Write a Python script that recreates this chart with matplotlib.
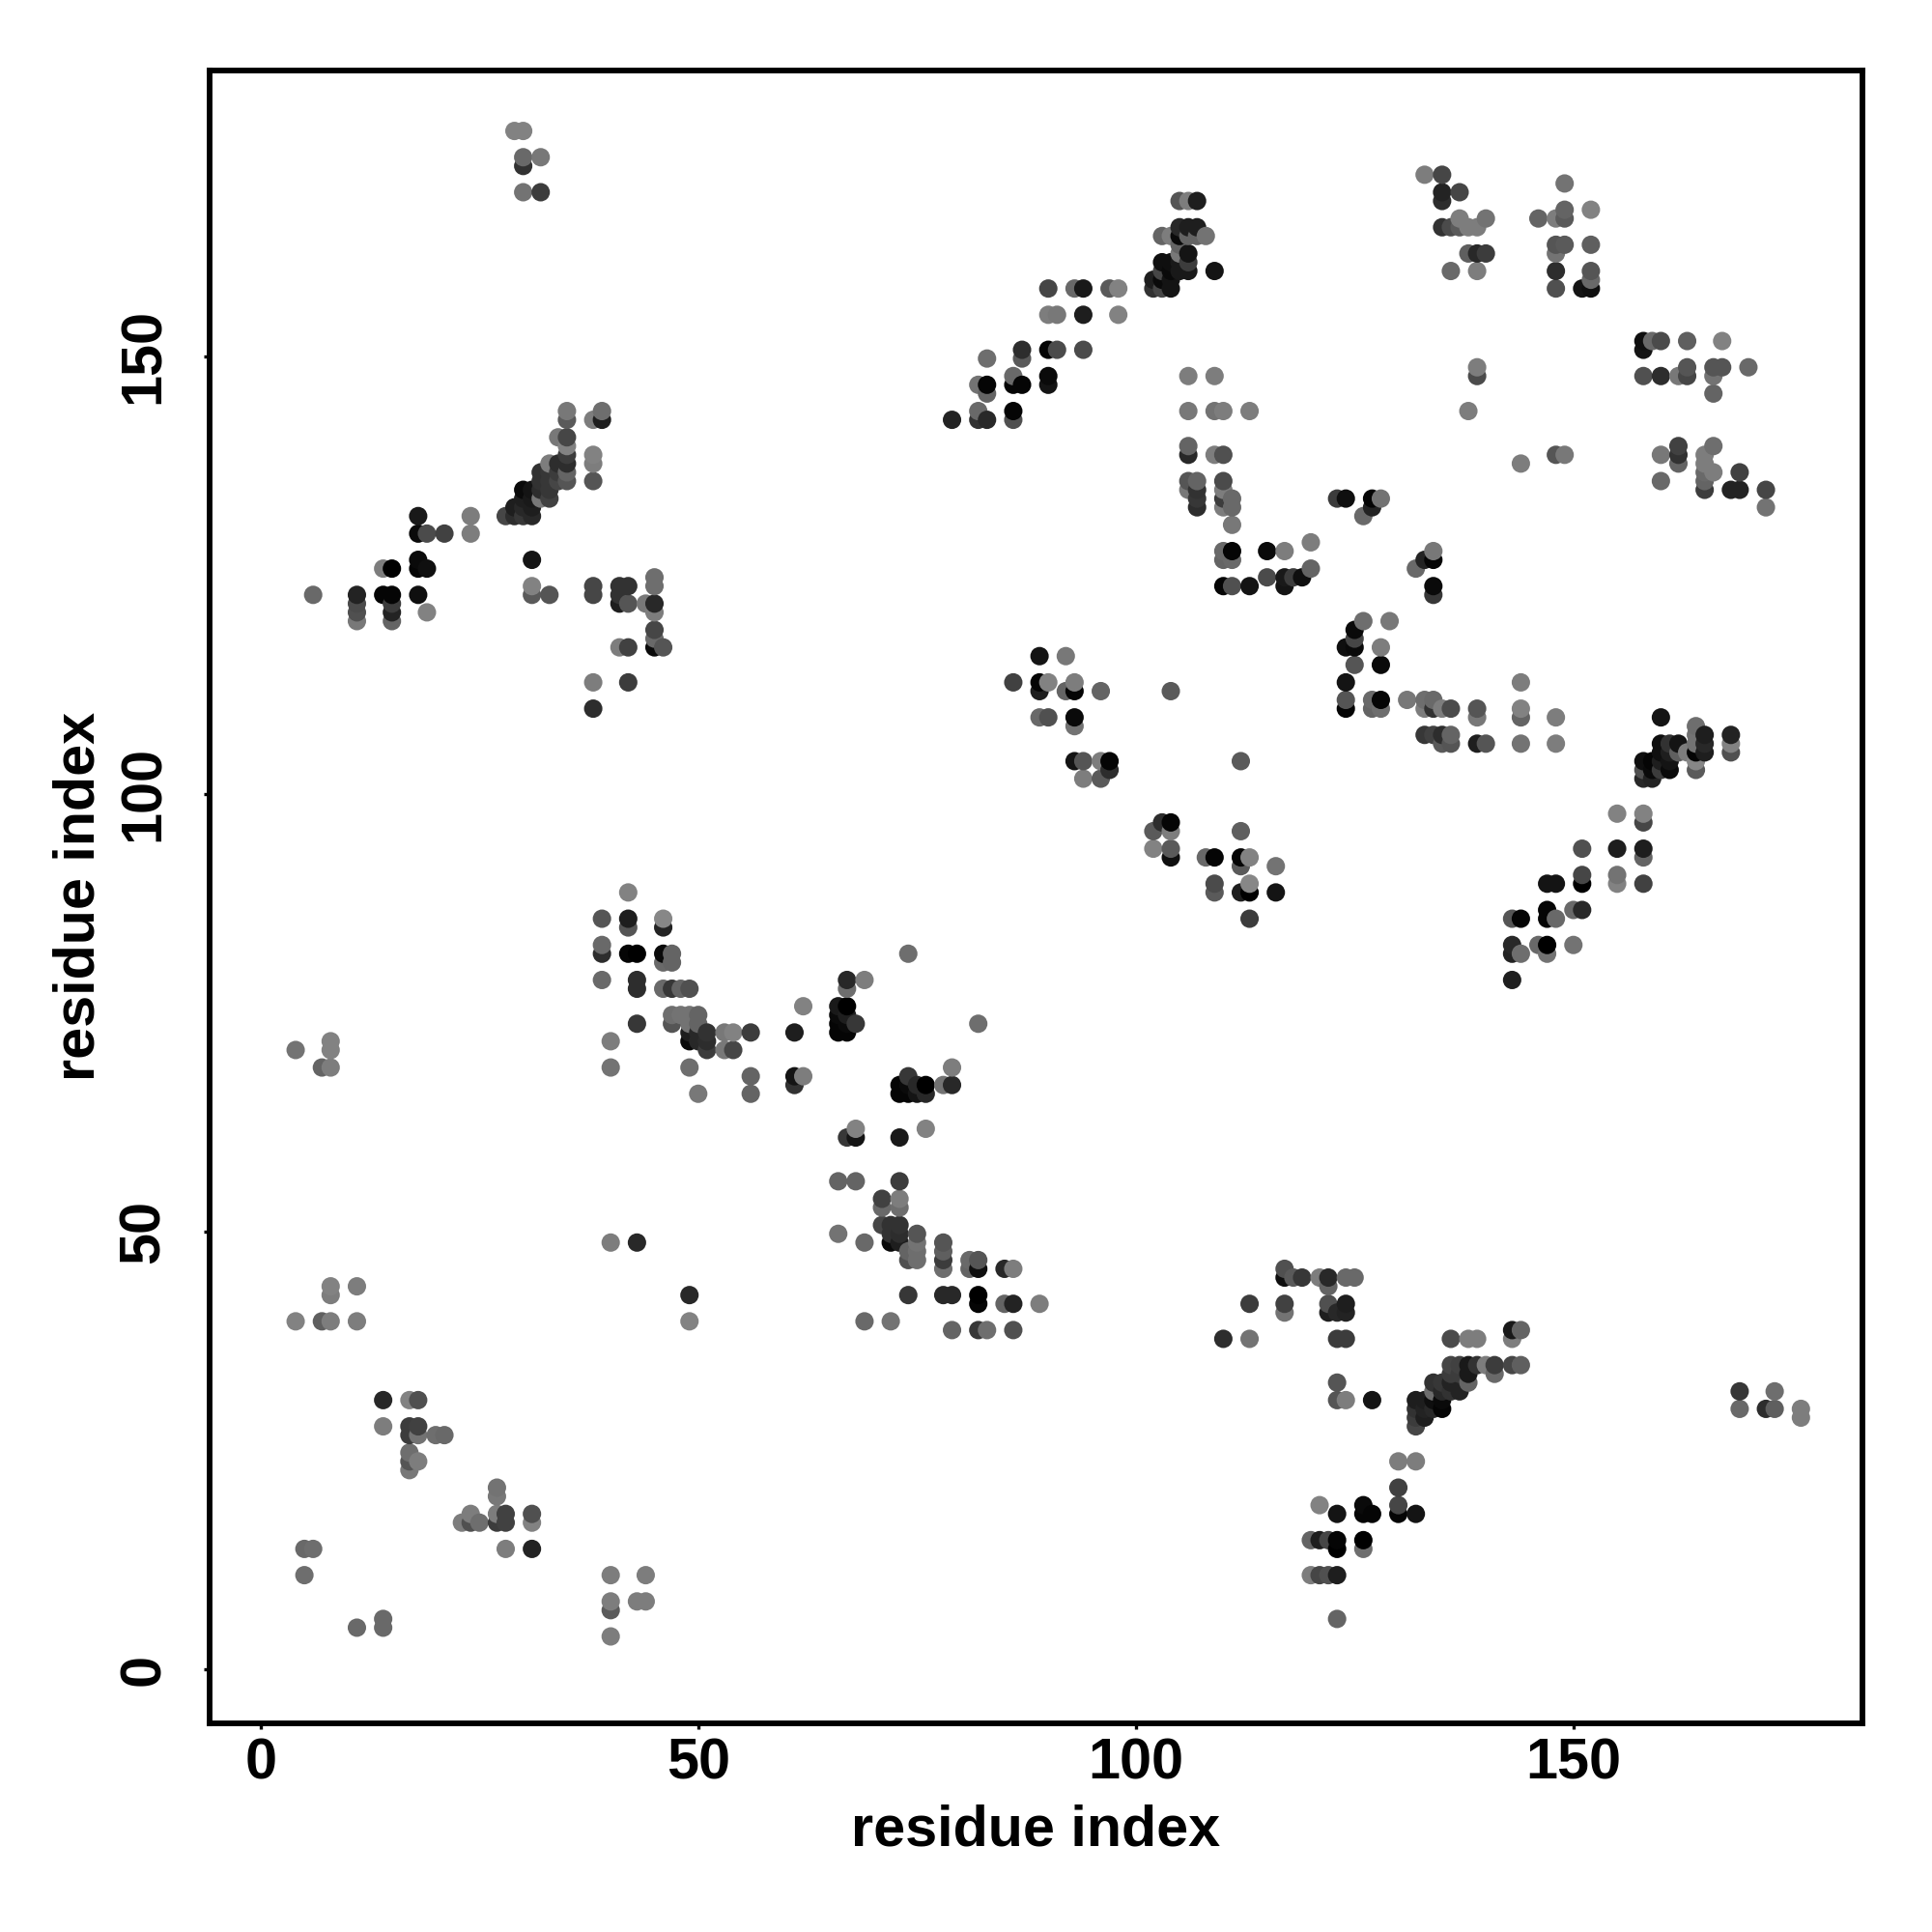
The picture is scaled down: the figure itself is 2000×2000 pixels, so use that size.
import numpy as np
import matplotlib
matplotlib.use("Agg")
import matplotlib.pyplot as plt

# contacts, region by region: residue x, residue y, grey level
top_left_x = [29, 30, 30, 32, 30, 30, 32,
              35, 35, 38, 39, 39, 34, 35, 35, 38, 38, 38, 35, 35, 35, 35, 34,
              33, 32, 33, 34, 34, 33, 32, 32, 33, 33, 32, 31, 30, 30, 31, 29, 30, 31, 28, 29, 30, 31,
              18, 24, 24, 18, 19, 21, 18, 18, 19, 14, 15,
              31, 31, 31, 33, 6, 11, 11, 11, 11,
              14, 15, 15, 15, 15, 18, 19,
              38, 38, 41, 42, 41, 41, 42, 44, 45, 45, 45, 45, 45]
top_left_y = [176, 176, 173, 173, 172, 169, 169,
              144, 143, 143, 143, 144, 141, 141, 140, 139, 138, 136, 139, 138, 137, 136, 138,
              138, 137, 137, 137, 136, 136, 136, 135, 135, 134, 134, 135, 135, 134, 134, 133, 133, 133, 132, 132, 132, 132,
              132, 132, 130, 130, 130, 130, 127, 126, 126, 126, 126,
              127, 124, 123, 123, 123, 123, 122, 121, 120,
              123, 123, 122, 121, 120, 123, 121,
              124, 123, 124, 124, 123, 122, 122, 122, 122, 125, 124, 121, 119]
top_left_g = [130, 130, 105, 120, 50, 115, 60,
              120, 90, 125, 30, 110, 120, 70, 130, 130, 125, 85, 60, 45, 100, 85, 45,
              125, 50, 55, 60, 70, 55, 50, 45, 55, 65, 120, 20, 10, 30, 25, 30, 40, 30, 70, 45, 55, 40,
              25, 125, 125, 10, 75, 65, 10, 5, 15, 125, 0,
              20, 130, 90, 85, 105, 35, 75, 80, 120,
              5, 5, 60, 35, 100, 15, 130,
              70, 70, 50, 50, 50, 30, 85, 120, 40, 110, 110, 125, 70]

mid_left_x = [45, 46, 45, 41, 42,
              38, 42, 38, 42, 39, 42, 42, 46, 46,
              39, 39, 42, 43, 46, 47, 46, 47,
              39, 43, 43, 46, 47, 48, 49,
              43, 47, 48, 49, 50, 47, 49, 50, 49, 50, 51, 49, 50, 51, 51,
              53, 54, 56, 53, 54,
              40, 40, 49, 50, 56, 56,
              8, 8, 4, 7, 8]
mid_left_y = [118, 117, 117, 117, 117,
              113, 113, 110, 89, 86, 86, 85, 86, 85,
              83, 82, 82, 82, 82, 82, 81, 81,
              79, 79, 78, 78, 78, 78, 78,
              74, 75, 75, 75, 75, 74, 74, 74, 73, 73, 73, 72, 72, 72, 71,
              73, 73, 73, 71, 71,
              72, 69, 69, 66, 68, 66,
              72, 71, 71, 69, 69]
mid_left_g = [105, 85, 10, 125, 65,
              125, 60, 45, 130, 85, 30, 85, 135, 35,
              105, 45, 5, 0, 10, 100, 105, 100,
              105, 45, 45, 105, 55, 100, 80,
              55, 110, 115, 115, 100, 85, 115, 100, 30, 40, 50, 10, 40, 45, 60,
              120, 130, 60, 120, 70,
              125, 115, 110, 120, 100, 100,
              130, 130, 115, 100, 125]

bottom_left_x = [40, 43, 49, 49, 8, 8, 11, 4, 7, 8, 11,
                 14, 17, 18, 14, 17, 18, 17, 18, 20, 21, 17, 17, 18, 17,
                 27, 27, 24, 27, 28, 31, 23, 24, 25, 27, 28, 31,
                 28, 31, 5, 6, 5, 11, 14, 14,
                 40, 44, 40, 40, 43, 44, 40]
bottom_left_y = [49, 49, 43, 40, 44, 43, 44, 40, 40, 40, 40,
                 31, 31, 31, 28, 28, 28, 27, 27, 27, 27, 25, 24, 24, 23,
                 21, 20, 18, 18, 18, 18, 17, 17, 17, 17, 17, 17,
                 14, 14, 14, 14, 11, 5, 6, 5,
                 11, 11, 8, 7, 8, 8, 4]
bottom_left_g = [125, 40, 40, 130, 130, 125, 125, 130, 95, 125, 125,
                 40, 130, 80, 125, 60, 65, 60, 115, 110, 105, 110, 85, 125, 120,
                 115, 120, 125, 125, 65, 80, 125, 80, 110, 60, 65, 130,
                 125, 35, 105, 110, 110, 105, 105, 105,
                 125, 125, 125, 90, 125, 125, 125]

top_mid_x = [105, 106, 107, 105, 106, 107, 103, 104, 105, 106, 107, 108,
             105, 106, 105, 106, 105, 106, 105, 109,
             103, 104, 103, 104, 102, 103, 104, 102, 103, 104,
             90, 93, 94, 97, 98, 90, 91, 94, 98,
             90, 91, 94, 87, 87, 83, 86, 86, 87, 90, 90, 82, 83, 83,
             82, 86, 86, 79, 82, 83,
             106, 109, 106, 109, 110, 113, 106, 106, 109, 110,
             106, 107, 106, 107, 107, 107, 110, 110, 110, 110, 111, 111, 111,
             110, 111, 110, 111, 115, 117, 120,
             110, 111, 113, 115, 117, 117, 118, 119, 120]
top_mid_y = [168, 168, 168, 165, 165, 165, 164, 164, 164, 164, 164, 164,
             163, 162, 162, 161, 161, 160, 160, 160,
             161, 161, 160, 160, 159, 159, 159, 158, 158, 158,
             158, 158, 158, 158, 158, 155, 155, 155, 155,
             151, 151, 151, 151, 150, 150, 148, 147, 147, 148, 147, 147, 147, 146,
             144, 144, 143, 143, 143, 143,
             148, 148, 144, 144, 144, 144, 140, 139, 139, 139,
             136, 136, 135, 135, 134, 133, 136, 135, 134, 133, 134, 133, 131,
             128, 128, 127, 127, 128, 128, 129,
             124, 124, 124, 125, 125, 124, 125, 125, 126]
top_mid_g = [85, 125, 30, 40, 30, 30, 100, 125, 10, 100, 100, 115,
             100, 20, 120, 60, 25, 25, 25, 20,
             15, 15, 70, 10, 30, 10, 20, 50, 70, 20,
             70, 105, 25, 90, 130, 125, 120, 30, 130,
             5, 75, 75, 45, 90, 110, 105, 5, 5, 10, 20, 115, 5, 100,
             105, 5, 80, 35, 50, 40,
             125, 125, 120, 115, 125, 125, 100, 40, 125, 80,
             85, 100, 120, 50, 55, 45, 75, 125, 60, 125, 105, 105, 120,
             105, 5, 100, 105, 10, 125, 125,
             5, 80, 20, 75, 25, 20, 60, 15, 100]

top_right_x = [133, 135, 135, 135, 137, 135, 136, 137, 137, 138, 139, 140,
               138, 139, 140, 136, 139, 139, 139, 138, 144, 148, 149,
               149, 152, 149, 146, 148, 149, 148, 149, 148, 152,
               148, 152, 152, 148, 151, 152,
               158, 159, 160, 158, 163, 167,
               158, 160, 162, 163, 163, 166, 167, 166, 170, 166,
               160, 160, 162, 162, 162, 165, 166, 165, 166, 165, 165, 165,
               169, 168, 169, 172, 172,
               123, 124, 127, 128, 127, 126,
               132, 133, 134, 134, 134, 134]
top_right_y = [171, 171, 169, 168, 169, 165, 165, 165, 166, 165, 165, 166,
               162, 162, 162, 160, 160, 149, 148, 144, 138, 139, 139,
               170, 167, 167, 166, 166, 166, 163, 163, 162, 163,
               160, 160, 159, 158, 158, 158,
               152, 152, 152, 151, 152, 152,
               148, 148, 148, 149, 148, 149, 149, 148, 149, 146,
               139, 136, 140, 139, 138, 139, 140, 138, 137, 137, 136, 135,
               137, 135, 135, 135, 133,
               134, 134, 134, 134, 133, 132,
               126, 127, 127, 128, 124, 123]
top_right_g = [125, 70, 35, 45, 70, 50, 75, 90, 125, 125, 125, 115,
               95, 40, 60, 105, 125, 125, 75, 125, 125, 85, 120,
               115, 130, 100, 100, 125, 90, 85, 90, 115, 95,
               45, 85, 105, 80, 20, 15,
               15, 105, 75, 20, 95, 130,
               80, 45, 120, 85, 70, 85, 85, 115, 105, 100,
               120, 105, 65, 50, 100, 125, 110, 125, 125, 105, 100, 60,
               65, 35, 35, 70, 115,
               60, 15, 5, 115, 35, 105,
               105, 35, 5, 120, 10, 55]

mid_right_x = [126, 129, 125, 125, 124, 125, 128, 125, 128,
               124, 124, 124, 127, 128, 127, 128,
               131, 133, 134, 133, 134, 135, 136,
               139, 139, 144, 144, 144, 148,
               133, 134, 135, 136, 135, 136, 139, 140, 144, 148,
               160, 164, 165, 165, 164, 164, 165, 164, 164, 164,
               168, 168, 168,
               160, 161, 162, 160, 161, 162, 163,
               158, 159, 160, 161, 158, 159, 160, 161, 158, 159,
               155, 158, 158, 151, 155, 158, 158,
               147, 148, 151, 151, 155, 155, 158,
               147, 150, 151, 147, 148, 143, 144,
               143, 143, 144, 146, 147, 147, 150, 143]
mid_right_y = [120, 120, 119, 118, 117, 117, 117, 115, 115,
               113, 111, 110, 111, 111, 110, 110,
               111, 111, 111, 110, 110, 110, 110,
               110, 109, 113, 110, 109, 109,
               107, 107, 107, 107, 106, 106, 106, 106, 106, 106,
               109, 108, 107, 106, 107, 106, 105, 105, 104, 103,
               107, 106, 105,
               106, 106, 106, 105, 105, 105, 105,
               104, 104, 104, 104, 103, 103, 103, 103, 102, 102,
               98, 98, 97, 94, 94, 94, 93,
               90, 90, 90, 91, 91, 90, 90,
               87, 87, 87, 86, 86, 86, 86,
               83, 82, 82, 83, 83, 82, 83, 79]
mid_right_g = [110, 120, 10, 70, 15, 10, 125, 85, 10,
               20, 85, 5, 105, 5, 100, 110,
               120, 110, 105, 125, 50, 125, 75,
               85, 120, 125, 130, 100, 125,
               55, 65, 45, 100, 90, 85, 30, 85, 115, 125,
               20, 110, 30, 40, 115, 115, 30, 5, 135, 90,
               35, 130, 80,
               15, 50, 20, 15, 30, 95, 125,
               15, 5, 30, 20, 80, 10, 60, 10, 40, 35,
               130, 130, 70, 80, 30, 30, 100,
               20, 20, 0, 70, 115, 130, 65,
               5, 105, 40, 5, 105, 85, 5,
               40, 35, 110, 105, 0, 115, 115, 30]

centre_x = [89, 92, 86, 89, 90, 93, 89, 92, 93, 96, 104,
            89, 90, 93, 93, 93, 94, 96, 97, 97, 94, 96, 112,
            102, 103, 104, 104, 102, 104, 104,
            112, 108, 109, 112, 113, 112, 116,
            109, 109, 112, 113, 113, 116, 113,
            74, 67, 69, 67, 62, 66, 67,
            66, 67, 66, 67, 68, 66, 67, 61, 82,
            61, 62, 61,
            74, 73, 74, 75, 76, 73, 74, 75, 76,
            78, 79, 79, 67, 68, 68, 73, 76,
            66, 68, 73]
centre_y = [116, 116, 113, 113, 113, 113, 112, 112, 112, 112, 112,
            109, 109, 109, 108, 104, 104, 104, 104, 103, 102, 102, 104,
            96, 97, 97, 96, 94, 94, 93,
            96, 93, 93, 93, 93, 92, 92,
            90, 89, 89, 90, 89, 89, 86,
            82, 79, 79, 78, 76, 76, 76,
            75, 75, 74, 74, 74, 73, 73, 73, 74,
            68, 68, 67,
            68, 67, 67, 67, 67, 66, 66, 66, 66,
            67, 67, 69, 61, 61, 62, 61, 62,
            56, 56, 56]
centre_g = [20, 120, 65, 5, 130, 125, 30, 100, 5, 100, 90,
            105, 80, 10, 115, 20, 85, 125, 5, 45, 125, 90, 90,
            90, 45, 5, 125, 130, 90, 15,
            95, 105, 5, 5, 130, 90, 115,
            75, 90, 30, 135, 0, 20, 60,
            110, 40, 125, 110, 130, 25, 0,
            10, 30, 5, 10, 55, 5, 5, 30, 110,
            20, 125, 50,
            55, 5, 10, 40, 0, 5, 5, 20, 40,
            115, 40, 125, 55, 20, 130, 25, 130,
            100, 100, 60]

bottom_mid_x = [71, 73, 71, 73, 71, 72, 73, 72, 73, 72, 73,
                75, 75, 75, 75, 74, 74, 66, 69,
                78, 78, 78, 78, 81, 82, 81, 82, 85, 86,
                74, 78, 79, 82, 82, 85, 86, 89, 69, 72,
                79, 82, 83, 86, 110, 113, 113,
                117, 117, 117, 117, 118, 119, 121]
bottom_mid_y = [54, 54, 53, 53, 51, 51, 51, 50, 50, 49, 49,
                50, 49, 48, 47, 47, 48, 50, 49,
                49, 48, 47, 46, 47, 47, 46, 46, 46, 46,
                43, 43, 43, 43, 42, 42, 42, 42, 40, 40,
                39, 39, 39, 39, 38, 38, 42,
                42, 41, 46, 45, 45, 45, 45]
bottom_mid_g = [65, 125, 105, 110, 70, 50, 50, 50, 45, 10, 30,
                85, 115, 110, 110, 80, 100, 115, 105,
                85, 95, 60, 110, 105, 85, 100, 15, 40, 125,
                55, 40, 40, 0, 5, 100, 35, 125, 105, 115,
                100, 55, 110, 80, 45, 115, 60,
                65, 115, 80, 15, 90, 55, 125]

bottom_right_x = [122, 122, 124, 125, 122, 122, 123, 124, 124, 123, 124,
                  123, 123, 124, 127,
                  136, 138, 139, 143, 144, 143,
                  136, 137, 138, 139, 140, 141, 141, 143, 144,
                  134, 135, 136, 137, 138, 138, 134, 135, 136, 137, 136,
                  132, 133, 134, 135, 132, 133, 134, 135, 132, 133, 132,
                  130, 132, 130, 130, 130, 132,
                  126, 126, 127, 123, 121,
                  123, 123, 126, 126, 122, 120, 121,
                  123, 122, 121, 120, 123,
                  169, 173, 169, 172, 173, 176, 176]
bottom_right_y = [45, 44, 45, 45, 42, 41, 41, 42, 41, 38, 38,
                  33, 31, 31, 31,
                  38, 38, 38, 39, 39, 38,
                  35, 35, 35, 35, 35, 35, 34, 35, 35,
                  33, 33, 34, 34, 34, 33, 32, 32, 32, 32, 33,
                  31, 31, 31, 31, 30, 30, 30, 30, 29, 29, 28,
                  24, 24, 21, 19, 18, 18,
                  19, 18, 18, 18, 19,
                  15, 14, 15, 14, 15, 15, 15,
                  11, 11, 11, 11, 6,
                  32, 32, 30, 30, 30, 30, 29]
bottom_right_g = [40, 100, 105, 105, 80, 30, 40, 30, 35, 60, 60,
                  85, 85, 125, 20,
                  75, 125, 125, 25, 100, 125,
                  70, 65, 25, 50, 125, 60, 105, 70, 95,
                  50, 55, 60, 60, 25, 100, 110, 40, 50, 35, 35,
                  30, 30, 15, 10, 50, 35, 40, 5, 60, 30, 70,
                  125, 125, 65, 70, 5, 20,
                  10, 5, 5, 20, 130,
                  5, 0, 0, 110, 70, 100, 30,
                  30, 80, 70, 125, 100,
                  55, 110, 105, 45, 95, 125, 125]

tick_values = [0, 50, 100, 150]

res_x = np.array(top_left_x + mid_left_x + bottom_left_x + top_mid_x + top_right_x
                 + mid_right_x + centre_x + bottom_mid_x + bottom_right_x)
res_y = np.array(top_left_y + mid_left_y + bottom_left_y + top_mid_y + top_right_y
                 + mid_right_y + centre_y + bottom_mid_y + bottom_right_y)
grey = np.array(top_left_g + mid_left_g + bottom_left_g + top_mid_g + top_right_g
                + mid_right_g + centre_g + bottom_mid_g + bottom_right_g)

# the original draws in residue order, so later residues sit on top
order = np.lexsort((res_y, res_x))

plt.rcParams["font.family"] = ["Liberation Sans", "DejaVu Sans"]
plt.rcParams["font.weight"] = "bold"

fig = plt.figure(figsize=(10, 10), dpi=200)
ax = fig.add_axes([217 / 2000, 216 / 2000, 1711 / 2000, 1711.4 / 2000])

# dots sit a quarter of a residue below the y ticks in the original
ax.scatter(res_x[order], res_y[order] - 0.25, c=grey[order], cmap="gray", vmin=0, vmax=255,
           s=47, linewidths=0, clip_on=False)

ax.set_xlim(-5.83, 183.03)
ax.set_ylim(-6.18, 182.7)

ax.set_xticks(tick_values)
ax.set_yticks(tick_values)
ax.tick_params(axis="both", length=2, width=1.2, labelsize=21.4)
ax.tick_params(axis="x", pad=3.25)
ax.tick_params(axis="y", pad=12.5)
for label in ax.get_yticklabels():
    label.set_rotation(90)
    label.set_va("center")

ax.set_xlabel("residue index", fontsize=21.4, fontweight="bold")
ax.set_ylabel("residue index", fontsize=21.4, fontweight="bold")
ax.xaxis.set_label_coords(0.5, -0.049)
ax.yaxis.set_label_coords(-0.063, 0.5)

for spine in ax.spines.values():
    spine.set_linewidth(2.1)

fig.savefig("out.png", dpi=200)
